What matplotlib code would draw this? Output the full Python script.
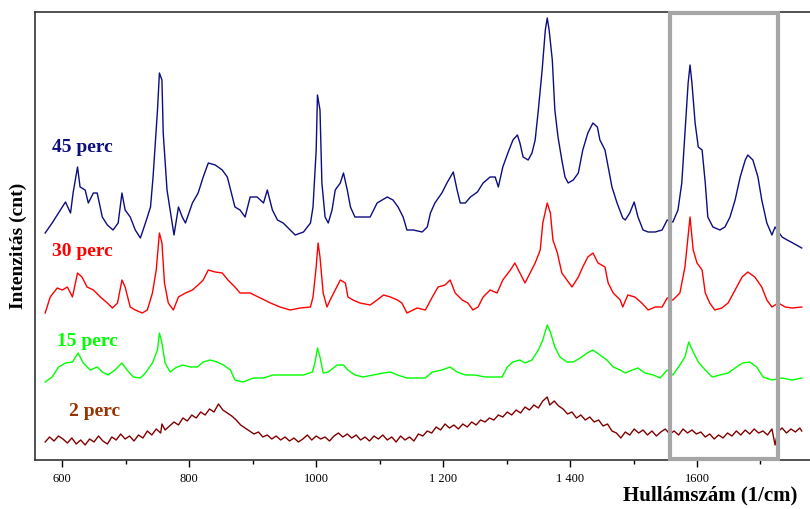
import matplotlib
matplotlib.use("Agg")
import matplotlib.pyplot as plt
from matplotlib.patches import Rectangle
from matplotlib.ticker import FixedLocator

# wavenumber (1/cm) and intensity (arb.)
wn_45 = [573, 584, 600, 605, 613, 617, 624, 628, 636, 641, 649, 655, 663, 671, 680, 688, 694, 699,
         707, 715, 723, 731, 739, 743, 750, 753, 757, 759, 765, 773, 776, 783, 789, 794, 805, 814,
         822, 830, 841, 852, 860, 868, 872, 880, 888, 896, 907, 917, 923, 931, 939, 948, 959, 967,
         980, 991, 995, 1000, 1002, 1006, 1009, 1014, 1019, 1025, 1030, 1038, 1043, 1049, 1054,
         1061, 1069, 1077, 1085, 1096, 1104, 1112, 1121, 1129, 1137, 1143, 1153, 1167, 1175, 1180,
         1187, 1198, 1206, 1216, 1222, 1227, 1235, 1243, 1254, 1263, 1274, 1282, 1287, 1294, 1302,
         1310, 1317, 1321, 1326, 1334, 1340, 1345, 1350, 1356, 1361, 1364, 1367, 1372, 1376, 1381,
         1387, 1392, 1397, 1405, 1413, 1420, 1428, 1436, 1443, 1447, 1455, 1460, 1466, 1474, 1483,
         1487, 1494, 1501, 1507, 1515, 1523, 1534, 1545, 1553, 1562, 1570, 1576, 1581, 1586, 1589,
         1592, 1597, 1602, 1608, 1613, 1617, 1625, 1636, 1644, 1652, 1660, 1668, 1676, 1680, 1688,
         1696, 1702, 1710, 1718, 1723, 1734, 1742, 1751, 1765]
int_45 = [227, 237, 253, 258, 247, 267, 293, 273, 270, 257, 267, 267, 243, 235, 230, 237, 267, 250,
          243, 230, 222, 237, 253, 283, 350, 387, 380, 327, 270, 237, 225, 253, 243, 237, 257, 267,
          283, 297, 295, 290, 283, 263, 253, 250, 243, 263, 263, 257, 270, 250, 240, 237, 230, 225,
          228, 237, 253, 310, 365, 350, 277, 243, 237, 250, 270, 277, 287, 270, 253,
          243, 243, 243, 243, 257, 260, 263, 260, 253, 243, 230, 230, 228, 233, 247,
          257, 267, 277, 288, 270, 257, 257, 263, 268, 277, 283, 283, 273, 293, 307,
          320, 325, 317, 303, 300, 307, 320, 350, 390, 430, 442, 430, 400, 350, 323,
          300, 283, 277, 280, 287, 310, 327, 337, 333, 320, 310, 293, 273, 257, 242,
          240, 247, 258, 243, 230, 228, 228, 230, 240, 238, 250, 277, 327, 377, 395,
          377, 337, 313, 310, 277, 243, 233, 230, 233, 243, 260, 283, 300, 305, 300,
          283, 260, 237, 225, 233, 223, 220, 217, 212]

wn_30 = [573, 581, 592, 600, 608, 616, 624, 631, 639, 649, 660, 671, 679, 687, 694, 699, 707, 715,
         726, 734, 742, 748, 753, 757, 761, 767, 775, 783, 794, 805, 814, 822, 830, 841, 852, 861,
         872, 880, 896, 912, 928, 943, 959, 975, 991, 995, 1000, 1003, 1006, 1011, 1017, 1022,
         1030, 1038, 1046, 1050, 1058, 1069, 1085, 1096, 1106, 1117, 1128, 1135, 1143, 1159, 1172,
         1183, 1192, 1203, 1211, 1219, 1230, 1239, 1247, 1255, 1263, 1274, 1285, 1294, 1306, 1313,
         1321, 1329, 1337, 1345, 1353, 1357, 1364, 1369, 1373, 1380, 1387, 1395, 1403, 1413, 1420,
         1428, 1436, 1444, 1455, 1460, 1468, 1479, 1483, 1491, 1502, 1513, 1523, 1534, 1545, 1553,
         1562, 1573, 1581, 1587, 1589, 1594, 1600, 1608, 1613, 1620, 1628, 1639, 1649, 1660, 1671,
         1680, 1691, 1702, 1710, 1718, 1728, 1739, 1750, 1765]
int_30 = [147, 163, 172, 170, 173, 163, 187, 183, 173, 170, 163, 157, 152, 157, 180, 173, 153, 150,
          147, 150, 167, 190, 227, 217, 177, 157, 150, 163, 167, 170, 175, 180, 190, 188, 187, 180,
          173, 167, 167, 162, 157, 153, 150, 152, 153, 163, 193, 217, 203, 167, 153, 160,
          170, 180, 177, 163, 160, 157, 155, 160, 165, 163, 160, 157, 147, 152, 150,
          163, 173, 175, 180, 167, 160, 157, 150, 153, 163, 170, 167, 180, 190, 197,
          187, 177, 187, 197, 210, 237, 257, 247, 220, 207, 187, 180, 173, 183, 193,
          203, 207, 197, 193, 177, 167, 160, 153, 165, 163, 157, 150, 153, 153, 162,
          160, 167, 193, 230, 243, 210, 197, 190, 167, 157, 150, 152, 157, 170, 183,
          188, 183, 173, 160, 153, 157, 153, 152, 153]

wn_15 = [573, 584, 594, 605, 616, 625, 633, 644, 655, 663, 672, 683, 694, 702, 712, 723, 731, 742,
         750, 753, 757, 762, 770, 778, 789, 802, 813, 822, 833, 844, 854, 865, 872, 885, 901, 917,
         932, 948, 964, 980, 994, 998, 1002, 1006, 1011, 1019, 1033, 1043, 1050, 1061, 1074, 1090,
         1106, 1117, 1128, 1143, 1159, 1172, 1183, 1198, 1211, 1222, 1235, 1250, 1266, 1282, 1293,
         1301, 1310, 1321, 1329, 1340, 1350, 1357, 1364, 1369, 1376, 1384, 1395, 1405, 1416, 1427,
         1436, 1447, 1458, 1468, 1479, 1487, 1498, 1507, 1518, 1531, 1542, 1553, 1562, 1573, 1581,
         1587, 1594, 1602, 1613, 1624, 1636, 1649, 1660, 1672, 1683, 1694, 1704, 1718, 1734, 1750,
         1765]
int_15 = [78, 83, 93, 97, 98, 107, 97, 90, 93, 88, 85, 90, 97, 90, 83, 82, 87, 97,
          110, 127, 117, 97, 88, 92, 95, 93, 93, 98, 100, 98, 95, 90, 80, 78, 82, 82,
          85, 85, 85, 85, 88, 97, 112, 103, 87, 88, 95, 95, 90, 85, 83, 85,
          87, 88, 85, 82, 82, 82, 88, 90, 93, 88, 85, 85, 83, 83, 83,
          93, 98, 100, 97, 100, 110, 120, 135, 128, 113, 103, 98, 98, 102, 107,
          110, 105, 100, 93, 90, 87, 90, 92, 87, 85, 82, 90, 85, 95, 103,
          118, 108, 98, 90, 83, 85, 87, 92, 97, 98, 93, 83, 80, 82, 80,
          82]

wn_2 = [573, 580, 587, 594, 601, 608, 615, 622, 629, 636, 643, 650, 657, 664, 671, 678, 685, 692,
        699, 706, 713, 720, 727, 734, 741, 748, 755, 757, 762, 769, 776, 783, 790, 797, 804, 811,
        818, 825, 832, 839, 846, 853, 860, 867, 874, 881, 888, 895, 902, 909, 916, 923, 930, 937,
        944, 951, 958, 965, 972, 979, 986, 993, 1000, 1007, 1014, 1021, 1028, 1035, 1042, 1049,
        1056, 1063, 1070, 1077, 1084, 1091, 1098, 1105, 1112, 1119, 1126, 1133, 1140, 1147, 1154,
        1161, 1168, 1175, 1182, 1189, 1196, 1203, 1210, 1217, 1224, 1231, 1238, 1245, 1252, 1259,
        1266, 1273, 1280, 1287, 1294, 1301, 1308, 1315, 1322, 1329, 1336, 1343, 1350, 1357, 1364,
        1368, 1375, 1382, 1389, 1396, 1403, 1410, 1417, 1424, 1431, 1438, 1445, 1452, 1459, 1466,
        1473, 1480, 1487, 1494, 1501, 1508, 1515, 1522, 1529, 1536, 1543, 1550, 1557, 1564, 1571,
        1578, 1585, 1592, 1599, 1606, 1613, 1620, 1627, 1634, 1641, 1648, 1655, 1662, 1669, 1676,
        1683, 1690, 1697, 1704, 1711, 1718, 1723, 1727, 1734, 1741, 1748, 1755, 1762, 1765]
int_2 = [18, 23, 19, 24, 21, 17, 22, 16, 20, 15, 21, 18, 24, 19, 16, 23, 20, 26,
         21, 24, 19, 25, 22, 29, 25, 31, 27, 36, 30, 34, 38, 35, 42, 39, 45, 42,
         48, 45, 51, 48, 56, 50, 47, 44, 40, 35, 32, 29, 26, 28, 23, 25, 21, 24,
         20, 23, 19, 22, 18, 21, 25, 20, 24, 21, 23, 19, 24, 27, 23, 26,
         22, 25, 20, 23, 19, 24, 21, 25, 20, 23, 18, 24, 20, 23, 19,
         26, 24, 29, 27, 33, 30, 36, 32, 35, 31, 36, 33, 38, 35, 40,
         38, 42, 40, 45, 43, 48, 45, 50, 47, 53, 50, 55, 52, 59, 63,
         55, 59, 54, 51, 46, 48, 42, 45, 40, 43, 38, 40, 34, 36, 29,
         27, 22, 28, 25, 31, 27, 30, 25, 29, 24, 28, 31, 26, 29, 25,
         31, 27, 30, 26, 28, 23, 26, 21, 25, 22, 27, 24, 29, 25, 30,
         26, 31, 27, 29, 25, 31, 15, 28, 32, 27, 31, 28, 32, 29]

labels = ["45 perc", "30 perc", "15 perc", "2 perc"]
line_colors = ["#0d0d80", "#ff0000", "#00ff00", "#800000"]
text_colors = ["#0d0d80", "#ff0000", "#00ff00", "#993300"]

major_ticks = [600, 800, 1000, 1200, 1400, 1600]
major_labels = ["600", "800", "1000", "1 200", "1 400", "1600"]
minor_ticks = [700, 900, 1100, 1300, 1500, 1700]

plt.rcParams['font.family'] = ['Liberation Serif', 'DejaVu Serif']

fig = plt.figure(figsize=(8.1, 5.09), dpi=100)
ax = fig.add_axes([35 / 810, 49 / 509, 775 / 810, 448 / 509])

series = [(wn_45, int_45), (wn_30, int_30), (wn_15, int_15), (wn_2, int_2)]
for (x, y), c in zip(series, line_colors):
    ax.plot(x, y, color=c, lw=1.0)

# series names next to the traces
label_pos = [(584, 313), (584, 208), (592, 118), (610, 48)]
for txt, (lx, ly), c in zip(labels, label_pos, text_colors):
    ax.text(lx, ly, txt, color=c, fontsize=14, fontweight='bold', ha='left', va='center')

# highlighted region
ax.add_patch(Rectangle((1557, 0.003), 171, 0.994, transform=ax.get_xaxis_transform(),
                       fill=False, ec='#a6a6a6', lw=3, clip_on=False, zorder=5))

ax.set_xlim(557, 1778)
ax.set_ylim(0, 448)
ax.xaxis.set_major_locator(FixedLocator(major_ticks))
ax.xaxis.set_minor_locator(FixedLocator(minor_ticks))
ax.set_xticklabels(major_labels)
ax.set_yticks([])
ax.tick_params(axis='x', which='major', direction='out', length=5, width=1, labelsize=9, pad=4)
ax.tick_params(axis='x', which='minor', direction='out', length=3, width=1)
ax.spines['right'].set_visible(False)
for s in ['left', 'top', 'bottom']:
    ax.spines[s].set_color('#333333')
    ax.spines[s].set_linewidth(1.2)

fig.text(797 / 810, 1 - 495 / 509, "Hullámszám (1/cm)", ha='right', va='center',
         fontsize=15, fontweight='bold')
fig.text(18 / 810, 1 - 246 / 509, "Intenzitás (cnt)", ha='center', va='center',
         rotation=90, fontsize=14, fontweight='bold')

fig.savefig("out.png", dpi=100)
